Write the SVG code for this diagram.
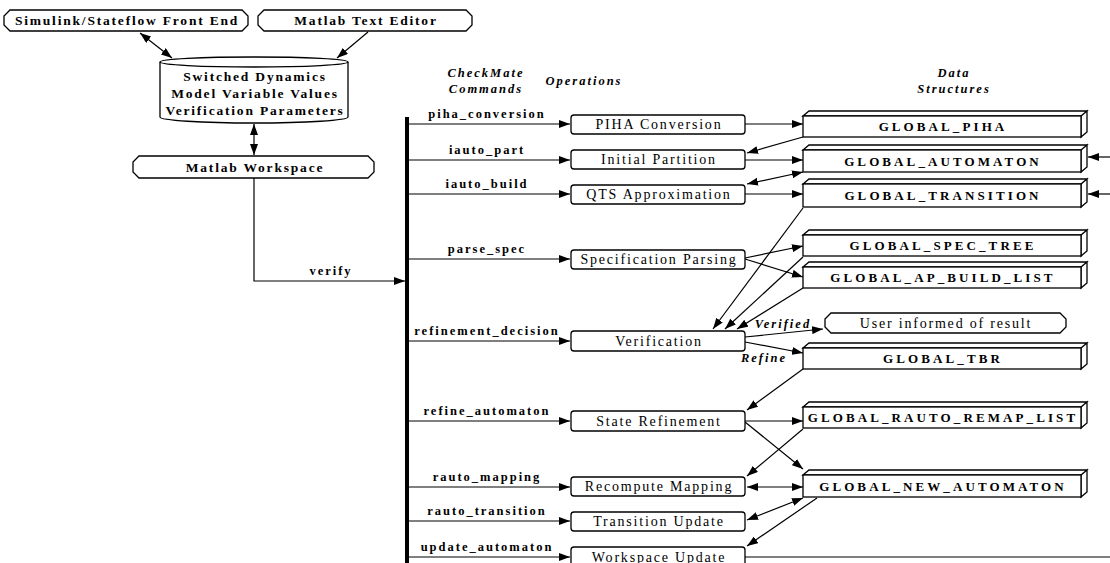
<svg xmlns="http://www.w3.org/2000/svg" width="1110" height="563" viewBox="0 0 1110 563">
<style>
.box{fill:#fff;stroke:#000;stroke-width:1.3}
.ln{fill:none;stroke:#000;stroke-width:1.2}
.t{font-family:"Liberation Serif",serif;fill:#000;text-anchor:middle}
.lbl{font-weight:bold;font-size:12.5px;letter-spacing:2px}
.op{font-size:14px;letter-spacing:1.8px}
.ds{font-weight:bold;font-size:13px;letter-spacing:3.1px}
.nd{font-weight:bold;font-size:13.5px;letter-spacing:1.8px}
.ttl{font-weight:bold;font-style:italic;font-size:12.5px;letter-spacing:2px}
</style>
<defs>
<marker id="ah" viewBox="0 0 11 8" refX="11" refY="4" markerWidth="11" markerHeight="8" markerUnits="userSpaceOnUse" orient="auto-start-reverse"><path d="M0,0 L11,4 L0,8 Z" fill="#000"/></marker>
</defs>

<g id="connectors" class="ln">
<path d="M140,33 L172,58" marker-start="url(#ah)" marker-end="url(#ah)"/>
<path d="M368,32 L337,58" marker-end="url(#ah)"/>
<path d="M254,124 L254,155" marker-start="url(#ah)" marker-end="url(#ah)"/>
<path d="M254,178 V281 H405" marker-end="url(#ah)"/>
<path d="M409,124 H570" marker-end="url(#ah)"/>
<path d="M409,160 H570" marker-end="url(#ah)"/>
<path d="M409,194 H570" marker-end="url(#ah)"/>
<path d="M409,259 H570" marker-end="url(#ah)"/>
<path d="M409,341 H570" marker-end="url(#ah)"/>
<path d="M409,421 H570" marker-end="url(#ah)"/>
<path d="M409,487 H570" marker-end="url(#ah)"/>
<path d="M409,521 H570" marker-end="url(#ah)"/>
<path d="M409,557 H570" marker-end="url(#ah)"/>
<path d="M745,124 H803" marker-end="url(#ah)"/>
<path d="M803,137 L747,153" marker-end="url(#ah)"/>
<path d="M745,160 H803" marker-end="url(#ah)"/>
<path d="M803,172 L747,184" marker-start="url(#ah)" marker-end="url(#ah)"/>
<path d="M745,194 H803" marker-end="url(#ah)"/>
<path d="M1110,157 H1088" marker-end="url(#ah)"/>
<path d="M1110,194 H1088" marker-end="url(#ah)"/>
<path d="M745,258 L803,246" marker-end="url(#ah)"/>
<path d="M745,259 L803,277" marker-end="url(#ah)"/>
<path d="M803,208 L713,329" marker-end="url(#ah)"/>
<path d="M803,257 L725,329" marker-end="url(#ah)"/>
<path d="M803,288 L737,329" marker-end="url(#ah)"/>
<path d="M745,337 L823,329" marker-end="url(#ah)"/>
<path d="M745,342 L803,353" marker-end="url(#ah)"/>
<path d="M803,369 L747,410" marker-end="url(#ah)"/>
<path d="M745,421 H803" marker-end="url(#ah)"/>
<path d="M745,422 L803,469" marker-end="url(#ah)"/>
<path d="M803,429 L747,476" marker-end="url(#ah)"/>
<path d="M747,487 H803" marker-start="url(#ah)" marker-end="url(#ah)"/>
<path d="M803,498 L747,520" marker-start="url(#ah)" marker-end="url(#ah)"/>
<path d="M817,498 L747,546" marker-end="url(#ah)"/>
<path d="M745,557 H1110"/>
</g>
<rect id="command-bar" x="405" y="117" width="4" height="446" fill="#000"/>

<g id="labels" class="t lbl">
<text x="487" y="118">piha_conversion</text>
<text x="487" y="154">iauto_part</text>
<text x="487" y="188">iauto_build</text>
<text x="487" y="253">parse_spec</text>
<text x="487" y="335">refinement_decision</text>
<text x="487" y="415">refine_automaton</text>
<text x="487" y="481">rauto_mapping</text>
<text x="487" y="515">rauto_transition</text>
<text x="487" y="551">update_automaton</text>
<text x="331" y="275">verify</text>
</g>
<g id="edge-labels" class="t ttl">
<text x="783" y="328">Verified</text>
<text x="764" y="362">Refine</text>
</g>

<g id="titles" class="t ttl">
<text x="486" y="77">CheckMate</text>
<text x="486" y="93">Commands</text>
<text x="584" y="85">Operations</text>
<text x="954" y="77">Data</text>
<text x="954" y="93">Structures</text>
</g>

<g id="simulink">
<polygon class="box" points="10,10 242,10 248,16 248,25 242,31 10,31 4,25 4,16"/>
<text class="t nd" x="127" y="25">Simulink/Stateflow Front End</text>
</g>
<g id="text-editor">
<polygon class="box" points="264,10 466,10 472,16 472,25 466,31 264,31 258,25 258,16"/>
<text class="t nd" x="366" y="25">Matlab Text Editor</text>
</g>
<g id="model-store">
<path class="box" d="M160,62 V117 A94,6 0 0 0 348,117 V62"/>
<ellipse class="box" cx="254" cy="62" rx="94" ry="5"/>
<text class="t nd" x="255" y="81">Switched Dynamics</text>
<text class="t nd" x="255" y="98">Model Variable Values</text>
<text class="t nd" x="255" y="115">Verification Parameters</text>
</g>
<g id="workspace">
<polygon class="box" points="139,156 368,156 374,162 374,172 368,178 139,178 133,172 133,162"/>
<text class="t nd" x="255" y="172">Matlab Workspace</text>
</g>

<g id="op-piha"><rect class="box" x="571" y="115" width="174" height="19" rx="3"/><text class="t op" x="659" y="129">PIHA Conversion</text></g>
<g id="op-initial"><rect class="box" x="571" y="150" width="174" height="19" rx="3"/><text class="t op" x="659" y="164">Initial Partition</text></g>
<g id="op-qts"><rect class="box" x="571" y="185" width="174" height="19" rx="3"/><text class="t op" x="659" y="199">QTS Approximation</text></g>
<g id="op-spec"><rect class="box" x="571" y="250" width="174" height="19" rx="3"/><text class="t op" x="659" y="264">Specification Parsing</text></g>
<g id="op-verif"><rect class="box" x="571" y="331" width="174" height="20" rx="3"/><text class="t op" x="659" y="346">Verification</text></g>
<g id="op-refine"><rect class="box" x="571" y="411" width="174" height="20" rx="3"/><text class="t op" x="659" y="426">State Refinement</text></g>
<g id="op-remap"><rect class="box" x="571" y="477" width="174" height="19" rx="3"/><text class="t op" x="659" y="491">Recompute Mapping</text></g>
<g id="op-trans"><rect class="box" x="571" y="512" width="174" height="19" rx="3"/><text class="t op" x="659" y="526">Transition Update</text></g>
<g id="op-ws"><rect class="box" x="571" y="547" width="174" height="20" rx="3"/><text class="t op" x="659" y="562">Workspace Update</text></g>

<g id="user-result">
<polygon class="box" points="831,313 1060,313 1066,319 1066,327 1060,333 831,333 825,327 825,319"/>
<text class="t op" x="946" y="328">User informed of result</text>
</g>

<g id="ds-piha"><path class="box" d="M803,116 L809,111 H1087 L1081,116 Z M1081,116 L1087,111 V132 L1081,137 Z"/><rect class="box" x="803" y="116" width="278" height="21"/><text class="t ds" x="943" y="131">GLOBAL_PIHA</text></g>
<g id="ds-automaton"><path class="box" d="M803,150 L809,145 H1087 L1081,150 Z M1081,150 L1087,145 V167 L1081,172 Z"/><rect class="box" x="803" y="150" width="278" height="22"/><text class="t ds" x="943" y="166">GLOBAL_AUTOMATON</text></g>
<g id="ds-transition"><path class="box" d="M803,184 L809,179 H1087 L1081,184 Z M1081,184 L1087,179 V202 L1081,207 Z"/><rect class="box" x="803" y="184" width="278" height="23"/><text class="t ds" x="943" y="200">GLOBAL_TRANSITION</text></g>
<g id="ds-spec"><path class="box" d="M803,235 L809,230 H1087 L1081,235 Z M1081,235 L1087,230 V251 L1081,256 Z"/><rect class="box" x="803" y="235" width="278" height="21"/><text class="t ds" x="943" y="250">GLOBAL_SPEC_TREE</text></g>
<g id="ds-ap"><path class="box" d="M803,267 L809,262 H1087 L1081,267 Z M1081,267 L1087,262 V283 L1081,288 Z"/><rect class="box" x="803" y="267" width="278" height="21"/><text class="t ds" x="943" y="282">GLOBAL_AP_BUILD_LIST</text></g>
<g id="ds-tbr"><path class="box" d="M803,348 L809,343 H1087 L1081,348 Z M1081,348 L1087,343 V364 L1081,369 Z"/><rect class="box" x="803" y="348" width="278" height="21"/><text class="t ds" x="943" y="363">GLOBAL_TBR</text></g>
<g id="ds-remap"><path class="box" d="M803,407 L809,402 H1087 L1081,407 Z M1081,407 L1087,402 V423 L1081,428 Z"/><rect class="box" x="803" y="407" width="278" height="21"/><text class="t ds" x="943" y="422">GLOBAL_RAUTO_REMAP_LIST</text></g>
<g id="ds-new"><path class="box" d="M803,475 L809,470 H1087 L1081,475 Z M1081,475 L1087,470 V492 L1081,497 Z"/><rect class="box" x="803" y="475" width="278" height="22"/><text class="t ds" x="943" y="491">GLOBAL_NEW_AUTOMATON</text></g>
</svg>
